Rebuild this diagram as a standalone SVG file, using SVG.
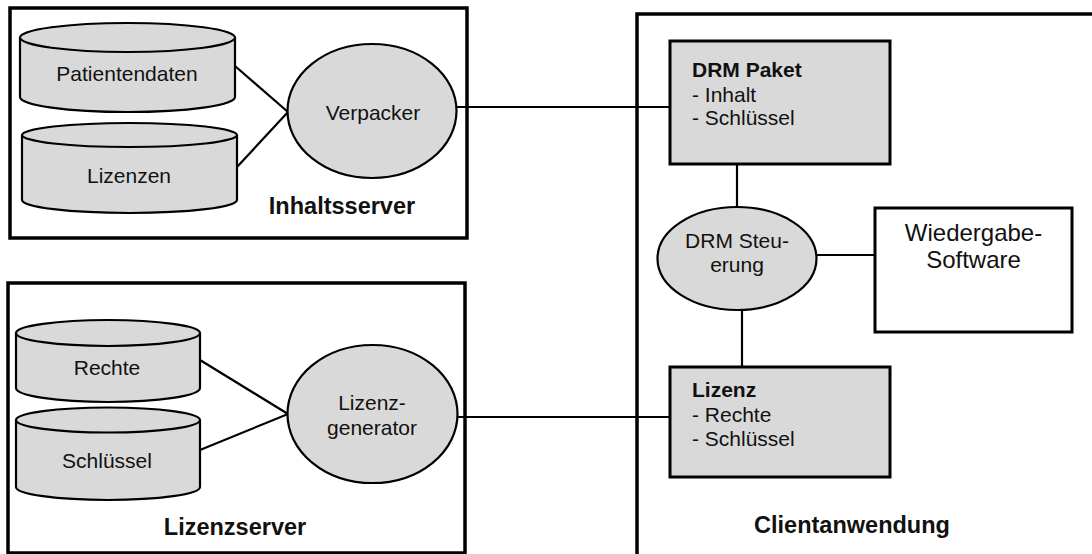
<svg xmlns="http://www.w3.org/2000/svg" width="1092" height="554" viewBox="0 0 1092 554">
  <style>
    .frame { fill: #ffffff; stroke: #000000; stroke-width: 3.5; }
    .shape { fill: #d9d9d9; stroke: #000000; stroke-width: 2.2; }
    .box { fill: #d9d9d9; stroke: #000000; stroke-width: 3; }
    .plain { fill: #ffffff; stroke: #000000; stroke-width: 3; }
    .link { fill: none; stroke: #000000; stroke-width: 2.2; }
    text { font-family: "Liberation Sans", Arial, sans-serif; font-size: 21px; fill: #111111; }
    .c { text-anchor: middle; }
    .b { font-weight: bold; }
    .big { font-size: 24px; }
    .title { font-weight: bold; font-size: 23.5px; text-anchor: middle; }
  </style>

  <rect width="1092" height="554" fill="#ffffff"/>

  <!-- container frames -->
  <g id="inhaltsserver">
    <rect class="frame" x="10" y="8" width="457" height="230"/>
    <text class="title" x="342" y="214">Inhaltsserver</text>
  </g>
  <g id="lizenzserver">
    <rect class="frame" x="8" y="283" width="457" height="270"/>
    <text class="title" x="235" y="535">Lizenzserver</text>
  </g>
  <g id="clientanwendung">
    <rect class="frame" x="637" y="14" width="520" height="600"/>
    <text class="title" x="852" y="533">Clientanwendung</text>
  </g>

  <!-- connectors -->
  <g id="connectors">
    <line class="link" x1="235" y1="66" x2="288" y2="112"/>
    <line class="link" x1="237" y1="167" x2="288" y2="112"/>
    <line class="link" x1="200" y1="360" x2="288" y2="414"/>
    <line class="link" x1="200" y1="450" x2="288" y2="414"/>
    <line class="link" x1="456" y1="107" x2="670" y2="107"/>
    <line class="link" x1="457" y1="417" x2="670" y2="417"/>
    <line class="link" x1="737" y1="164" x2="737" y2="207"/>
    <line class="link" x1="742" y1="309" x2="742" y2="367"/>
    <line class="link" x1="816" y1="255" x2="875" y2="255"/>
  </g>

  <!-- data stores -->
  <g id="patientendaten">
    <path class="shape" d="M20,37.5 V97 A107.5,15 0 0 0 235,97 V37.5 A107.5,14.5 0 0 0 20,37.5 Z"/>
    <path class="shape" d="M20,37.5 A107.5,14.5 0 0 0 235,37.5"/>
    <text class="c" x="127" y="81">Patientendaten</text>
  </g>
  <g id="lizenzen">
    <path class="shape" d="M22,135 V200 A107.5,13 0 0 0 237,200 V135 A107.5,12 0 0 0 22,135 Z"/>
    <path class="shape" d="M22,135 A107.5,12 0 0 0 237,135"/>
    <text class="c" x="129" y="183">Lizenzen</text>
  </g>
  <g id="rechte">
    <path class="shape" d="M16,333 V388 A92,14 0 0 0 200,388 V333 A92,13 0 0 0 16,333 Z"/>
    <path class="shape" d="M16,333 A92,13 0 0 0 200,333"/>
    <text class="c" x="107" y="375">Rechte</text>
  </g>
  <g id="schluessel">
    <path class="shape" d="M16,420 V487 A92,13 0 0 0 200,487 V420 A92,12.5 0 0 0 16,420 Z"/>
    <path class="shape" d="M16,420 A92,12.5 0 0 0 200,420"/>
    <text class="c" x="107" y="468">Schlüssel</text>
  </g>

  <!-- processes -->
  <g id="verpacker">
    <ellipse class="shape" cx="372" cy="111" rx="84.5" ry="67"/>
    <text class="c" x="373" y="120">Verpacker</text>
  </g>
  <g id="lizenzgenerator">
    <ellipse class="shape" cx="372.5" cy="414" rx="85" ry="69"/>
    <text class="c" x="372" y="410">Lizenz-</text>
    <text class="c" x="372" y="435">generator</text>
  </g>
  <g id="drm-steuerung">
    <ellipse class="shape" cx="737" cy="258.5" rx="79.5" ry="51.5"/>
    <text class="c" x="737" y="248">DRM Steu-</text>
    <text class="c" x="737" y="272">erung</text>
  </g>

  <!-- client-side boxes -->
  <g id="drm-paket">
    <rect class="box" x="670" y="41" width="220" height="123"/>
    <text x="692" y="77" class="b">DRM Paket</text>
    <text x="692" y="102">- Inhalt</text>
    <text x="692" y="125">- Schlüssel</text>
  </g>
  <g id="lizenz">
    <rect class="box" x="670" y="367" width="220" height="110"/>
    <text x="692" y="397" class="b">Lizenz</text>
    <text x="692" y="422">- Rechte</text>
    <text x="692" y="446">- Schlüssel</text>
  </g>
  <g id="wiedergabe-software">
    <rect class="plain" x="875" y="208" width="197" height="124"/>
    <text class="c big" x="973.5" y="241">Wiedergabe-</text>
    <text class="c big" x="973.5" y="268">Software</text>
  </g>
</svg>
